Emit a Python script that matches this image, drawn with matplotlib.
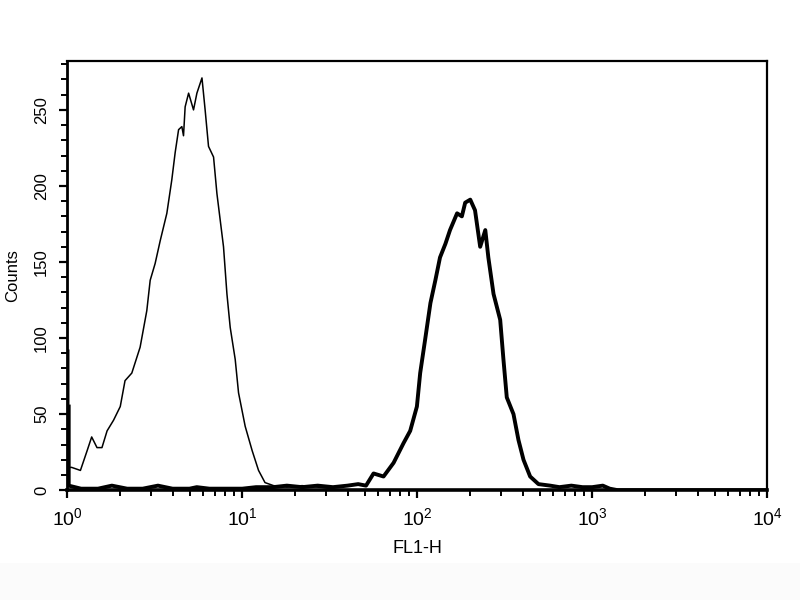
import numpy as np
import matplotlib
matplotlib.use("Agg")
import matplotlib.pyplot as plt
from matplotlib.ticker import LogLocator, MultipleLocator
from matplotlib.patches import Rectangle

plt.rcParams['font.family'] = ['Liberation Sans', 'DejaVu Sans']
plt.rcParams['mathtext.default'] = 'regular'

# unstained / control histogram (thin line)
ctrl_x = [1.02, 1.02, 1.06, 1.19, 1.30, 1.38, 1.48, 1.58, 1.69, 1.84, 2.01, 2.14,
          2.34, 2.61, 2.85, 2.98, 3.18, 3.40, 3.71, 3.96, 4.14, 4.33, 4.52, 4.62,
          4.72, 4.94, 5.27, 5.51, 5.89, 6.14, 6.42, 6.86, 7.17, 7.82, 8.18, 8.54,
          9.12, 9.53, 10.4, 11.4, 12.4, 13.5, 15.1, 18.0, 22.0, 27.0, 33.0]
ctrl_y = [92, 15, 15, 13, 26, 35, 28, 28, 39, 46, 55, 72,
          77, 94, 118, 138, 149, 164, 182, 204, 222, 237, 239, 233,
          252, 261, 250, 261, 271, 250, 226, 219, 195, 160, 129, 107,
          86, 64, 42, 26, 13, 5, 3, 2, 3, 2, 1]

# stained histogram (thick line)
stain_x = [1.02, 1.02, 1.2, 1.5, 1.8, 2.2, 2.7, 3.3, 4.0, 5.0, 5.5, 6.5, 8.0, 10.0,
           12.0, 15.0, 18.0, 22.0, 27.0, 33.0, 40.0, 46.0, 51.0, 56.3, 64.2,
           73.3, 83.6, 91.2, 99.6, 104, 111, 119, 127, 135, 145, 154, 169,
           180, 188, 201, 214, 229, 245, 255, 273, 298, 311, 325, 355, 379,
           405, 442, 493, 575, 650, 760, 880, 1000, 1150, 1260, 1400, 2000,
           4000, 10000]
stain_y = [55, 3, 1, 1, 3, 1, 1, 3, 1, 1, 2, 1, 1, 1,
           2, 2, 3, 2, 3, 2, 3, 4, 3, 11, 9,
           18, 31, 39, 55, 77, 99, 123, 138, 153, 162, 171, 182,
           180, 189, 191, 184, 160, 171, 153, 129, 112, 86, 61, 50, 33,
           20, 9, 4, 3, 2, 3, 2, 2, 3, 1, 0, 0,
           0, 0]

fig = plt.figure(figsize=(8, 6), dpi=100)
fig.patches.append(Rectangle((0, 0), 1, 37 / 600, transform=fig.transFigure,
                             facecolor='#fbfbfb', edgecolor='none', zorder=-1))
ax = fig.add_axes([0.084, 0.183, 0.875, 0.715])

ax.plot(ctrl_x, ctrl_y, color='black', lw=1.1)
ax.plot(stain_x, stain_y, color='black', lw=2.8)

ax.set_xscale('log')
ax.set_xlim(1, 1e4)
ax.set_ylim(0, 282)

ax.xaxis.set_major_locator(LogLocator(base=10, numticks=10))
ax.xaxis.set_minor_locator(LogLocator(base=10, subs=np.arange(2, 10), numticks=20))
ax.yaxis.set_major_locator(MultipleLocator(50))
ax.yaxis.set_minor_locator(MultipleLocator(10))

ax.tick_params(which='major', direction='out', length=6, width=1.6)
ax.tick_params(which='minor', direction='out', length=4, width=1.4)
ax.tick_params(axis='x', labelsize=14, pad=6)
ax.tick_params(axis='y', labelsize=12, pad=7)
for lab in ax.get_yticklabels():
    lab.set_rotation(90)
    lab.set_va('center')

for s in ax.spines.values():
    s.set_linewidth(1.6)
ax.spines['bottom'].set_linewidth(2.6)
ax.spines['left'].set_linewidth(2.0)

ax.set_xlabel('FL1-H', fontsize=13, labelpad=8)
ax.set_ylabel('Counts', fontsize=12, labelpad=10)

fig.savefig('out.png', dpi=100)
